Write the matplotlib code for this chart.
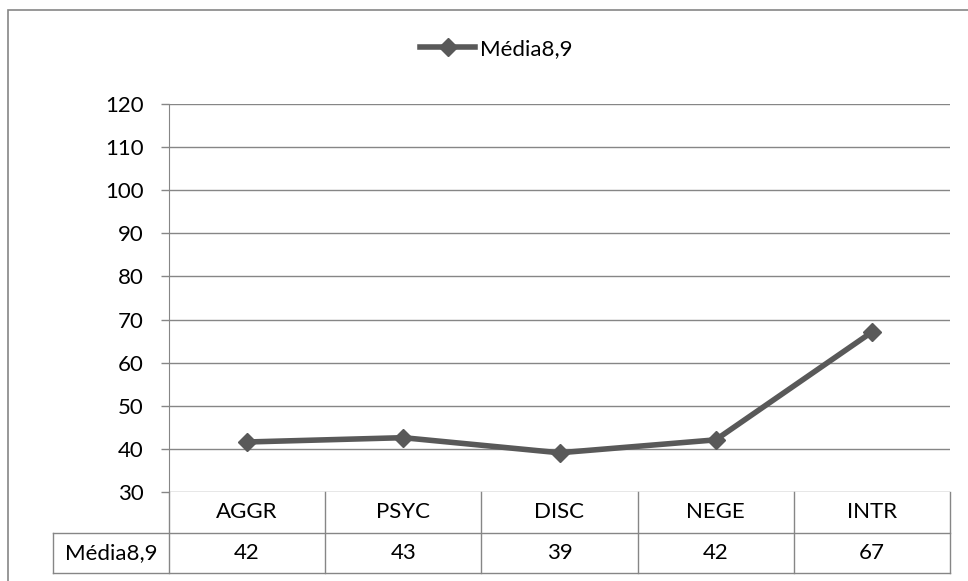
import matplotlib
matplotlib.use("Agg")
import matplotlib.pyplot as plt
from matplotlib.patches import Rectangle
from matplotlib.lines import Line2D

categories = ["AGGR", "PSYC", "DISC", "NEGE", "INTR"]
values = [41.6, 42.6, 39.1, 42.1, 67.1]
table_labels = ["42", "43", "39", "42", "67"]
series_name = "Média8,9"
yticks = [30, 40, 50, 60, 70, 80, 90, 100, 110, 120]

plt.rcParams['font.family'] = ['Lato', 'DejaVu Sans']
FS = 16
W, H = 968, 581
fig = plt.figure(figsize=(W/100, H/100), dpi=100)
L, R, B, T = 169, 950, 492, 104
ax = fig.add_axes([L/W, 1-B/H, (R-L)/W, (B-T)/H])

grid_c = "#868686"
line_c = "#595959"
x = [i + 0.5 for i in range(len(categories))]
ax.plot(x, values, color=line_c, lw=4, marker="D", ms=9.5, mfc=line_c, mec=line_c,
        zorder=3, clip_on=False, solid_joinstyle="round")
ax.set_xlim(0, len(categories))
ax.set_ylim(30, 120)
ax.set_yticks(yticks)
ax.set_yticklabels([str(t) for t in yticks], fontsize=FS)
ax.tick_params(axis='y', length=6, color=grid_c, width=1, pad=12)
ax.set_xticks([])
for t in yticks:
    ax.axhline(t, color=grid_c, lw=1, zorder=1)
for s in ["top", "right", "bottom"]:
    ax.spines[s].set_visible(False)
ax.spines["left"].set_color(grid_c)

# table
ah = B - T
r1 = -(533 - B)/ah
r2 = -(573 - B)/ah
left_x = (53 - L)/(R - L)
kw = dict(color=grid_c, lw=1, transform=ax.transAxes, clip_on=False)
ax.add_line(Line2D([left_x, 1], [r1, r1], **kw))
ax.add_line(Line2D([left_x, 1], [r2, r2], **kw))
ax.add_line(Line2D([left_x, left_x], [r1, r2], **kw))
n = len(categories)
for i in range(n + 1):
    ax.add_line(Line2D([i/n, i/n], [0, r2], **kw))
for i, (c, v) in enumerate(zip(categories, table_labels)):
    ax.text((i+0.5)/n, r1/2, c, transform=ax.transAxes, ha="center", va="center", fontsize=FS)
    ax.text((i+0.5)/n, (r1+r2)/2, v, transform=ax.transAxes, ha="center", va="center", fontsize=FS)
ax.text(left_x/2, (r1+r2)/2, series_name, transform=ax.transAxes, ha="center", va="center", fontsize=FS)

# legend
leg = ax.legend([Line2D([0], [0], color=line_c, lw=4, marker="D", ms=9.5)], [series_name],
                loc="center", bbox_to_anchor=(496/W, 1-49/H), bbox_transform=fig.transFigure,
                frameon=False, fontsize=FS, handlelength=2.5, handletextpad=0.2)

fig.add_artist(Rectangle((8/W, -20/H), 1000/W, (H - 10 + 20)/H, transform=fig.transFigure,
                         fill=False, edgecolor=grid_c, lw=1.2))
fig.savefig("out.png", dpi=100)
